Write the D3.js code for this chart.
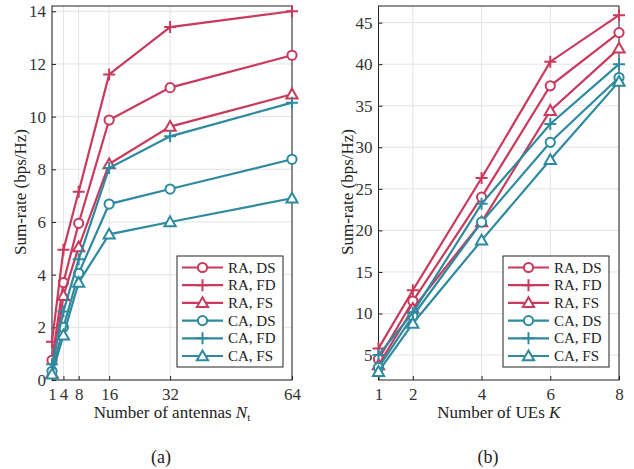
<!DOCTYPE html>
<html>
<head>
<meta charset="utf-8">
<script src="https://cdn.jsdelivr.net/npm/d3@7"></script>
<style>
  body { margin: 0; background: #fff; }
  svg text { font-family: "Liberation Serif", "Times New Roman", serif; }
</style>
</head>
<body>
<script>
// panel (a): sum-rate vs number of antennas
var antennas = [1, 4, 8, 16, 32, 64];
var raDsA = [0.75, 3.7, 5.95, 9.87, 11.1, 12.33];
var raFdA = [1.45, 4.95, 7.15, 11.6, 13.4, 14.0];
var raFsA = [0.25, 3.2, 5.05, 8.2, 9.62, 10.85];
var caDsA = [0.33, 2.0, 4.05, 6.68, 7.25, 8.38];
var caFdA = [0.6, 2.6, 4.58, 8.05, 9.25, 10.53];
var caFsA = [0.22, 1.7, 3.7, 5.53, 6.0, 6.9];
var xTicksA = [1, 4, 8, 16, 32, 64];
var yTicksA = [0, 2, 4, 6, 8, 10, 12, 14];

// panel (b): sum-rate vs number of UEs
var ues = [1, 2, 4, 6, 8];
var raDsB = [4.5, 11.5, 24.0, 37.4, 43.8];
var raFdB = [5.8, 12.8, 26.3, 40.3, 45.9];
var raFsB = [3.8, 10.6, 21.0, 34.4, 41.9];
var caDsB = [3.5, 9.7, 21.0, 30.6, 38.4];
var caFdB = [5.0, 10.1, 23.2, 32.8, 40.0];
var caFsB = [3.0, 8.8, 18.8, 28.5, 37.9];
var xTicksB = [1, 2, 4, 6, 8];
var yTicksB = [5, 10, 15, 20, 25, 30, 35, 40, 45];

var legendNames = ["RA, DS", "RA, FD", "RA, FS", "CA, DS", "CA, FD", "CA, FS"];

var red = "#c93a5d", teal = "#2e8a9f";
var markers = ["circle", "plus", "triangle", "circle", "plus", "triangle"];
var colors = [red, red, red, teal, teal, teal];

var svg = d3.select("body").append("svg")
  .attr("width", 634).attr("height", 469);
svg.append("rect").attr("width", 634).attr("height", 469).attr("fill", "#fff");

function drawMarker(g, type, x, y, color) {
  if (type == "circle") {
    g.append("circle").attr("cx", x).attr("cy", y).attr("r", 4.6)
      .attr("fill", "#fff").attr("stroke", color).attr("stroke-width", 2);
  } else if (type == "plus") {
    g.append("path").attr("d", "M" + (x - 6) + "," + y + "H" + (x + 6) + "M" + x + "," + (y - 6) + "V" + (y + 6))
      .attr("stroke", color).attr("stroke-width", 2).attr("fill", "none");
  } else {
    var s = 5.6;
    g.append("path")
      .attr("d", "M" + x + "," + (y - s) + "L" + (x + s) + "," + (y + s * 0.75) + "L" + (x - s) + "," + (y + s * 0.75) + "Z")
      .attr("fill", "#fff").attr("stroke", color).attr("stroke-width", 2);
  }
}

function panel(opt) {
  var x = d3.scaleLinear().domain(opt.xDomain).range(opt.xRange);
  var y = d3.scaleLinear().domain(opt.yDomain).range([380, 6]);
  var g = svg.append("g");
  var x0 = opt.xRange[0], x1 = opt.xRange[1];

  // grid
  g.selectAll(".gx").data(opt.xTicks).enter().append("line")
    .attr("x1", function (d) { return x(d); }).attr("x2", function (d) { return x(d); })
    .attr("y1", 6).attr("y2", 380).attr("stroke", "#e3e3e3").attr("stroke-width", 1);
  g.selectAll(".gy").data(opt.yTicks).enter().append("line")
    .attr("x1", x0).attr("x2", x1)
    .attr("y1", function (d) { return y(d); }).attr("y2", function (d) { return y(d); })
    .attr("stroke", "#e3e3e3").attr("stroke-width", 1);

  // axes
  var xAxis = d3.axisBottom(x).tickValues(opt.xTicks).tickSize(-4).tickPadding(8).tickFormat(d3.format("d"));
  var yAxis = d3.axisLeft(y).tickValues(opt.yTicks).tickSize(-4).tickPadding(6).tickFormat(d3.format("d"));
  var ax = g.append("g").attr("transform", "translate(0,380)").call(xAxis);
  var ay = g.append("g").attr("transform", "translate(" + x0 + ",0)").call(yAxis);
  [ax, ay].forEach(function (a) {
    a.attr("font-family", null);
    a.select(".domain").remove();
    a.selectAll("line").attr("stroke", "#222");
    a.selectAll("text").attr("font-size", 17).attr("fill", "#333");
  });
  g.append("rect").attr("x", x0).attr("y", 6).attr("width", x1 - x0).attr("height", 374)
    .attr("fill", "none").attr("stroke", "#222").attr("stroke-width", 1);

  // series
  var line = d3.line().x(function (d) { return x(d[0]); }).y(function (d) { return y(d[1]); });
  opt.series.forEach(function (vals, i) {
    var pts = opt.xs.map(function (v, j) { return [v, vals[j]]; });
    g.append("path").datum(pts).attr("d", line)
      .attr("fill", "none").attr("stroke", colors[i]).attr("stroke-width", 2.2);
    pts.forEach(function (p) { drawMarker(g, markers[i], x(p[0]), y(p[1]), colors[i]); });
  });

  // legend
  var lx = opt.legendX, ly = 256;
  g.append("rect").attr("x", lx).attr("y", ly).attr("width", opt.legendW).attr("height", 111)
    .attr("fill", "#fff").attr("stroke", "#222").attr("stroke-width", 1);
  legendNames.forEach(function (name, i) {
    var yy = ly + 11.5 + i * 17.7;
    g.append("line").attr("x1", lx + 5).attr("x2", lx + 46).attr("y1", yy).attr("y2", yy)
      .attr("stroke", colors[i]).attr("stroke-width", 2.2);
    drawMarker(g, markers[i], lx + 25.5, yy, colors[i]);
    g.append("text").attr("x", lx + 51).attr("y", yy + 5).attr("font-size", 15).attr("fill", "#222").text(name);
  });

  // labels
  g.append("text").attr("transform", "translate(" + opt.yLabelX + ",192) rotate(-90)")
    .attr("text-anchor", "middle").attr("font-size", 17).attr("fill", "#222").text("Sum-rate (bps/Hz)");
  var xl = g.append("text").attr("x", (x0 + x1) / 2).attr("y", 418)
    .attr("text-anchor", "middle").attr("font-size", 17).attr("fill", "#222");
  xl.append("tspan").text(opt.xLabel + " ");
  xl.append("tspan").attr("font-style", "italic").text(opt.xVar);
  if (opt.xSub) xl.append("tspan").attr("dy", 3).attr("font-size", 11).text(opt.xSub);
  g.append("text").attr("x", opt.capX).attr("y", 463).attr("text-anchor", "middle")
    .attr("font-size", 18).attr("fill", "#222").text(opt.caption);
}

panel({
  xDomain: [1, 64], xRange: [52, 292], yDomain: [0, 14.2],
  xTicks: xTicksA, yTicks: yTicksA, xs: antennas,
  series: [raDsA, raFdA, raFsA, caDsA, caFdA, caFsA],
  legendX: 177, legendW: 106, yLabelX: 26,
  xLabel: "Number of antennas", xVar: "N", xSub: "t", capX: 161, caption: "(a)"
});

panel({
  xDomain: [1, 8], xRange: [378.5, 619], yDomain: [2, 47],
  xTicks: xTicksB, yTicks: yTicksB, xs: ues,
  series: [raDsB, raFdB, raFsB, caDsB, caFdB, caFsB],
  legendX: 503, legendW: 106, yLabelX: 353,
  xLabel: "Number of UEs", xVar: "K", xSub: null, capX: 488, caption: "(b)"
});
</script>
</body>
</html>
